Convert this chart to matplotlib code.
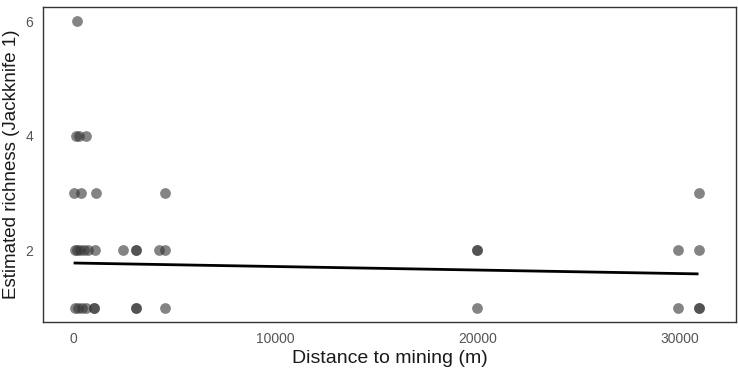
import matplotlib
matplotlib.use("Agg")
import matplotlib.pyplot as plt
import numpy as np

plt.rcParams['font.family'] = ['Liberation Sans', 'DejaVu Sans']

# Observed points (distance to mining in m, Jackknife-1 richness)
distance = [190,
            120, 300, 640,
            20, 380, 1110, 4520, 30950,
            80, 200, 350, 550, 750, 1080, 2460, 3120, 3120, 4230, 4560,
            20000, 20000, 29950, 30950,
            100, 250, 450, 650, 1050, 1050, 3120, 3120, 4520,
            20000, 29950, 30950, 30950]
richness = [6,
            4, 4, 4,
            3, 3, 3, 3, 3,
            2, 2, 2, 2, 2, 2, 2, 2, 2, 2, 2,
            2, 2, 2, 2,
            1, 1, 1, 1, 1, 1, 1, 1, 1,
            1, 1, 1, 1]

# Fitted linear trend (endpoints)
fit_x = [20, 30950]
fit_y = [1.78, 1.59]

x_ticks = [0, 10000, 20000, 30000]
y_ticks = [2, 4, 6]

fig = plt.figure(figsize=(7.38, 3.74), dpi=100)
ax = fig.add_axes([43/738, 1-322/374, (736-43)/738, (322-7)/374])

ax.scatter(distance, richness, s=60, color='#333333', alpha=0.6, linewidths=0, zorder=2)
ax.plot(fit_x, fit_y, color='black', linewidth=2.0, zorder=3, solid_capstyle='butt')

xmin, xmax = min(distance), max(distance)
xr = xmax - xmin
ax.set_xlim(xmin - 0.049*xr, xmax + 0.06*xr)
ymin, ymax = min(richness), max(richness)
yr = ymax - ymin
ax.set_ylim(ymin - 0.05*yr, ymax + 0.05*yr)

ax.set_xticks(x_ticks)
ax.set_xticklabels([str(v) for v in x_ticks])
ax.set_yticks(y_ticks)
ax.set_yticklabels([str(v) for v in y_ticks])
ax.tick_params(axis='both', length=0, labelsize=10, labelcolor='#555555')
ax.tick_params(axis='x', pad=7)
ax.tick_params(axis='y', pad=7)

for sp in ax.spines.values():
    sp.set_color('#333333')
    sp.set_linewidth(1.0)

ax.set_xlabel('Distance to mining (m)', fontsize=14, color='#1a1a1a', labelpad=3)
ax.set_ylabel('Estimated richness (Jackknife 1)', fontsize=13.5, color='#1a1a1a', labelpad=4)

fig.savefig('out.png', dpi=100)
